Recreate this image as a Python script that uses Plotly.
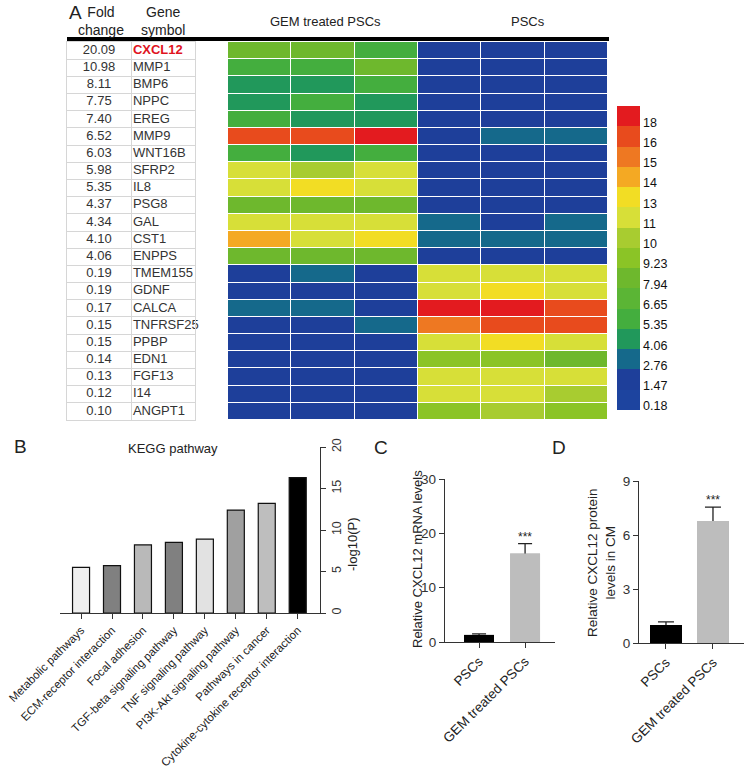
import numpy as np
import plotly.graph_objects as go

W, H = 750, 772
def px(x): return x / W
def py(y): return 1 - y / H

# ---------------- Panel A data ----------------
genes = ["CXCL12", "MMP1", "BMP6", "NPPC", "EREG", "MMP9", "WNT16B", "SFRP2", "IL8",
         "PSG8", "GAL", "CST1", "ENPPS", "TMEM155", "GDNF", "CALCA", "TNFRSF25",
         "PPBP", "EDN1", "FGF13", "I14", "ANGPT1"]
fold_change = [20.09, 10.98, 8.11, 7.75, 7.40, 6.52, 6.03, 5.98, 5.35, 4.37, 4.34,
               4.10, 4.06, 0.19, 0.19, 0.17, 0.15, 0.15, 0.14, 0.13, 0.12, 0.10]
highlight_gene = "CXCL12"
heat_columns = ["GEM 1", "GEM 2", "GEM 3", "PSC 1", "PSC 2", "PSC 3"]
gem_values = [
    [8.6, 8.6, 6.0], [6.0, 6.0, 8.6], [4.7, 4.7, 6.0], [4.7, 6.0, 4.7],
    [6.0, 4.7, 4.7], [17.0, 17.0, 19.0], [6.0, 4.7, 6.0], [12.0, 10.5, 12.0],
    [12.0, 13.5, 12.0], [8.6, 8.6, 8.6], [12.0, 12.0, 12.0], [14.5, 12.0, 13.5],
    [8.6, 8.6, 8.6], [2.1, 3.4, 2.1], [2.1, 2.1, 2.1], [3.4, 3.4, 2.1],
    [2.1, 2.1, 3.4], [2.1, 2.1, 2.1], [2.1, 2.1, 2.1], [2.1, 2.1, 2.1],
    [2.1, 2.1, 2.1], [2.1, 2.1, 2.1]]
psc_values = [
    [2.1, 2.1, 2.1], [2.1, 2.1, 2.1], [2.1, 2.1, 2.1], [2.1, 2.1, 2.1],
    [2.1, 2.1, 2.1], [2.1, 3.4, 3.4], [2.1, 2.1, 2.1], [2.1, 2.1, 2.1],
    [2.1, 2.1, 2.1], [2.1, 2.1, 2.1], [3.4, 2.1, 3.4], [3.4, 3.4, 3.4],
    [2.1, 2.1, 2.1], [12.0, 12.0, 12.0], [12.0, 13.5, 12.0], [19.0, 19.0, 17.0],
    [15.5, 17.0, 17.0], [12.0, 13.5, 12.0], [9.6, 9.6, 8.6], [12.0, 12.0, 12.0],
    [12.0, 12.0, 10.5], [9.6, 10.5, 9.6]]
level_bounds = [0.18, 1.47, 2.76, 4.06, 5.35, 6.65, 7.94, 9.23, 10, 11, 13, 14, 15, 16, 18, 20]
level_labels = ["0.18", "1.47", "2.76", "4.06", "5.35", "6.65", "7.94", "9.23",
                "10", "11", "13", "14", "15", "16", "18"]
level_colors = ["#1D449F", "#1E3F9A", "#15698B", "#21985B", "#44AE3E", "#5BB535",
                "#6EB82D", "#8BC426", "#A8CC30", "#D7DF38", "#F2DD24", "#F4A923",
                "#EE7822", "#E84B1D", "#E31B1F"]

# ---------------- Panel B data ----------------
kegg_pathways = ["Metabolic pathways", "ECM-receptor interaction", "Focal adhesion",
                 "TGF-beta signaling pathway", "TNF signaling pathway",
                 "PI3K-Akt signaling pathway", "Pathways in cancer",
                 "Cytokine-cytokine receptor interaction"]
kegg_logp = [5.5, 5.7, 8.2, 8.5, 8.9, 12.4, 13.2, 16.3]
kegg_colors = ["#EFEFEF", "#808080", "#B9B9B9", "#808080", "#E2E2E2", "#A0A0A0",
               "#BEBEBE", "#000000"]

# ---------------- Panels C / D data ----------------
groups = ["PSCs", "GEM treated PSCs"]
group_colors = ["#000000", "#BDBDBD"]
mrna_mean = [1.3, 16.3]
mrna_sem = [0.2, 1.8]
protein_mean = [1.0, 6.78]
protein_sem = [0.17, 0.77]

FONT = "Liberation Sans, Arial, sans-serif"
TXT = "#222222"
fig = go.Figure()

# ---- table (fold change + gene symbol) ----
rows = list(range(len(genes)))
fig.add_trace(go.Scatter(
    x=[0.5] * len(genes), y=rows, mode="text",
    text=[f"{v:.2f}" for v in fold_change],
    textfont=dict(size=13, color="#333333", family=FONT),
    xaxis="x", yaxis="y", hoverinfo="skip", showlegend=False))
fig.add_trace(go.Scatter(
    x=[1.03] * len(genes), y=rows, mode="text", textposition="middle right",
    text=[f"<b>{g}</b>" if g == highlight_gene else g for g in genes],
    textfont=dict(size=13, family=FONT,
                  color=["#E0141E" if g == highlight_gene else "#333333" for g in genes]),
    xaxis="x", yaxis="y", hoverinfo="skip", showlegend=False, cliponaxis=False))

# ---- heatmap ----
vals = np.hstack([np.array(gem_values), np.array(psc_values)])
bins = np.clip(np.searchsorted(level_bounds, vals, side="right") - 1, 0, len(level_colors) - 1)
nlev = len(level_colors)
cscale = []
for i, c in enumerate(level_colors):
    cscale.append([i / nlev, c])
    cscale.append([(i + 1) / nlev, c])
fig.add_trace(go.Heatmap(
    z=bins + 0.5, x=list(range(len(heat_columns))), y=rows,
    zmin=0, zmax=nlev, colorscale=cscale, xgap=1, ygap=1,
    xaxis="x2", yaxis="y2", hoverinfo="skip",
    colorbar=dict(
        x=px(617), xanchor="left", y=py(106), yanchor="top",
        lenmode="pixels", len=304, thicknessmode="pixels", thickness=23,
        xpad=0, ypad=0, outlinewidth=0, ticks="", ticklen=0,
        tickvals=[i + 0.2 for i in range(nlev)], ticktext=level_labels,
        tickfont=dict(size=12.5, color="#111111", family=FONT))))

# ---- panel B ----
fig.add_trace(go.Bar(
    x=kegg_pathways, y=kegg_logp, width=0.55,
    marker=dict(color=kegg_colors, line=dict(color="#111111", width=1.2)),
    xaxis="x3", yaxis="y3", showlegend=False, hoverinfo="skip"))

# ---- panel C ----
err = dict(type="data", array=mrna_sem, symmetric=True, color="#222222", thickness=1.3, width=7)
fig.add_trace(go.Bar(x=groups, y=mrna_mean, width=0.65, marker=dict(color=group_colors, line=dict(width=0)),
                     error_y=err, xaxis="x4", yaxis="y4", showlegend=False, hoverinfo="skip"))
fig.add_trace(go.Bar(x=groups, y=mrna_mean, width=0.65, marker=dict(color=group_colors, line=dict(width=0)),
                     xaxis="x4", yaxis="y4", showlegend=False, hoverinfo="skip"))
# ---- panel D ----
err2 = dict(type="data", array=protein_sem, symmetric=True, color="#222222", thickness=1.3, width=8)
fig.add_trace(go.Bar(x=groups, y=protein_mean, width=0.68, marker=dict(color=group_colors, line=dict(width=0)),
                     error_y=err2, xaxis="x5", yaxis="y5", showlegend=False, hoverinfo="skip"))
fig.add_trace(go.Bar(x=groups, y=protein_mean, width=0.68, marker=dict(color=group_colors, line=dict(width=0)),
                     xaxis="x5", yaxis="y5", showlegend=False, hoverinfo="skip"))

grid_c = "#D6D6D6"
ax_line = dict(showline=True, linecolor="#333333", linewidth=1.3, ticks="outside",
               ticklen=5, tickwidth=1.3, tickcolor="#333333", showgrid=False, zeroline=False,
               automargin=False)
row_dom = [py(420), py(42)]
fig.update_layout(
    width=W, height=H, margin=dict(l=0, r=0, t=0, b=0, pad=0, autoexpand=False),
    paper_bgcolor="white", plot_bgcolor="white", barmode="overlay",
    font=dict(family=FONT, color=TXT),
    xaxis=dict(domain=[px(67), px(195)], range=[0, 2], tickmode="array", tickvals=[1],
               showgrid=True, gridcolor=grid_c, gridwidth=1, showticklabels=False,
               showline=True, mirror=True, linecolor=grid_c, zeroline=False, ticks="",
               anchor="y", automargin=False),
    yaxis=dict(domain=row_dom, range=[len(genes) - 0.5, -0.5], tickmode="array",
               tickvals=[i + 0.5 for i in range(len(genes) - 1)], showgrid=True,
               gridcolor=grid_c, showticklabels=False, showline=True, mirror=True,
               linecolor=grid_c, zeroline=False, ticks="", anchor="x", automargin=False),
    xaxis2=dict(domain=[px(228), px(608)], range=[-0.5, 5.5], visible=False, anchor="y2"),
    yaxis2=dict(domain=row_dom, range=[len(genes) - 0.5, -0.5], visible=False, anchor="x2"),
    xaxis3=dict(domain=[px(60), px(320)], type="category", range=[-0.68, 7.72],
                tickangle=-45, tickfont=dict(size=11.5, color=TXT), anchor="y3", **ax_line),
    yaxis3=dict(domain=[py(613), py(447)], range=[0, 20], side="right", tickmode="array",
                tickvals=[0, 5, 10, 15, 20], tickangle=-90, tickfont=dict(size=12.5, color="#333"),
                anchor="x3", **ax_line),
    xaxis4=dict(domain=[px(445), px(555)], type="category", range=[-0.74, 1.65],
                tickangle=-45, tickfont=dict(size=13.5, color=TXT), anchor="y4", **ax_line),
    yaxis4=dict(domain=[py(642), py(479)], range=[0, 30], tickmode="array",
                tickvals=[0, 10, 20, 30], tickfont=dict(size=13.5, color="#333"), anchor="x4", **ax_line),
    xaxis5=dict(domain=[px(639), px(744)], type="category", range=[-0.574, 1.66],
                tickangle=-45, tickfont=dict(size=13.5, color=TXT), anchor="y5", **ax_line),
    yaxis5=dict(domain=[py(643), py(481)], range=[0, 9], tickmode="array",
                tickvals=[0, 3, 6, 9], tickfont=dict(size=13.5, color="#333"), anchor="x5", **ax_line),
)

fig.add_shape(type="line", xref="paper", yref="paper", x0=px(67), x1=px(609),
              y0=py(39), y1=py(39), line=dict(color="black", width=4))

def ann(text, x, y, size, angle=0, **kw):
    fig.add_annotation(text=text, x=px(x), y=py(y), xref="paper", yref="paper",
                       xanchor="center", yanchor="middle",
                       showarrow=False, textangle=angle, font=dict(size=size, color=TXT, family=FONT), **kw)

ann("A", 75, 12, 19)
ann("B", 20, 447, 19)
ann("C", 381, 448, 19)
ann("D", 559, 448, 19)
ann("Fold<br>change", 101, 21, 14)
ann("Gene<br>symbol", 163, 21, 14)
ann("GEM treated PSCs", 325, 22, 13)
ann("PSCs", 528, 22, 13)
ann("KEGG pathway", 173, 449, 13)
ann("-log10(P)", 352, 545, 13, angle=-90)
ann("Relative CXCL12 mRNA levels", 417, 559, 13, angle=-90)
ann("Relative CXCL12 protein<br>levels in CM", 601, 563, 13.5, angle=-90)

fig.add_annotation(text="***", x=groups[1], y=mrna_mean[1] + mrna_sem[1], xref="x4", yref="y4",
                   showarrow=False, yanchor="bottom", yshift=-2, font=dict(size=12, color=TXT, family=FONT))
fig.add_annotation(text="***", x=groups[1], y=protein_mean[1] + protein_sem[1], xref="x5", yref="y5",
                   showarrow=False, yanchor="bottom", yshift=-2, font=dict(size=12, color=TXT, family=FONT))

fig.write_html("out.html")
